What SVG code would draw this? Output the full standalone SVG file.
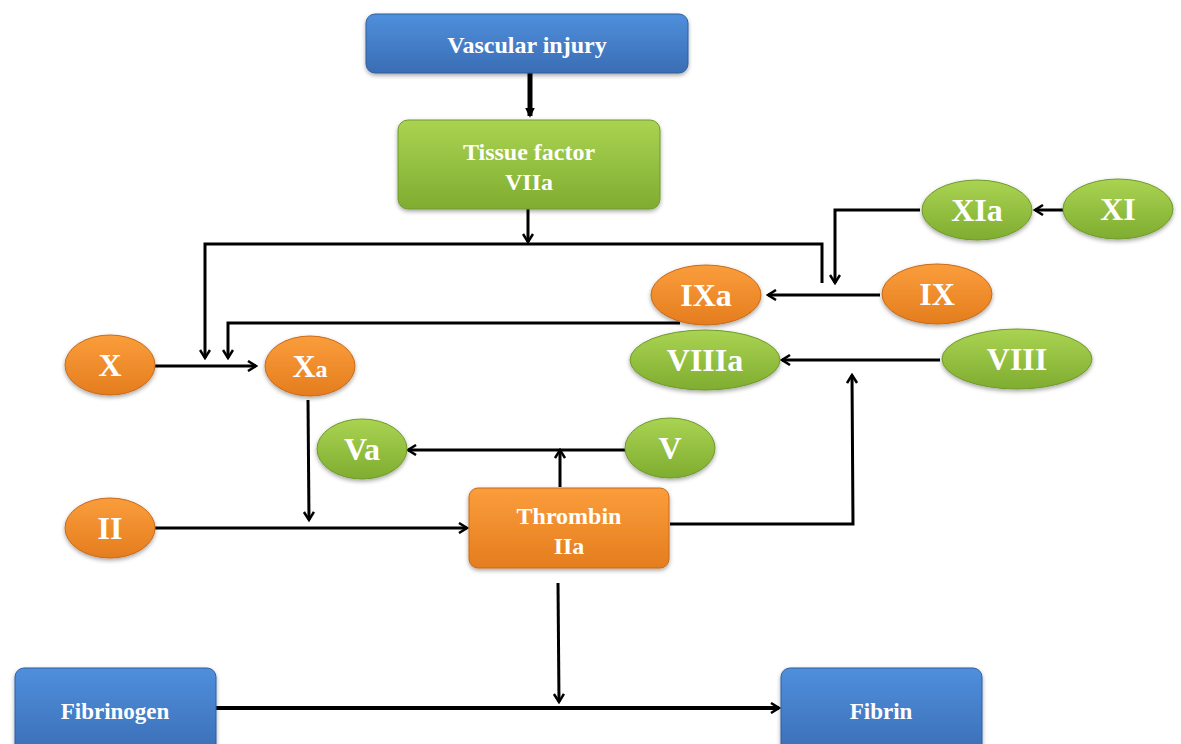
<svg xmlns="http://www.w3.org/2000/svg" width="1181" height="744" viewBox="0 0 1181 744">
<style>
.t{font-family:"Liberation Serif","Times New Roman",serif;font-weight:bold;fill:#fff;text-anchor:middle}
.e{font-size:32px}
.r{font-size:24px}
.ln{fill:none;stroke:#000;stroke-width:3;marker-end:url(#ah)}
.blue{fill:url(#gb);stroke:#2f5f9f;stroke-width:1;filter:url(#sh)}
.green{fill:url(#gg);stroke:#6f9a2a;stroke-width:1;filter:url(#sh)}
.orange{fill:url(#go);stroke:#c86a18;stroke-width:1;filter:url(#sh)}
</style>
<defs>
<linearGradient id="gb" x1="0" y1="0" x2="0" y2="1"><stop offset="0" stop-color="#4f8fdc"/><stop offset="1" stop-color="#3a6db4"/></linearGradient>
<linearGradient id="gg" x1="0" y1="0" x2="0" y2="1"><stop offset="0" stop-color="#aad352"/><stop offset="1" stop-color="#7fad30"/></linearGradient>
<linearGradient id="go" x1="0" y1="0" x2="0" y2="1"><stop offset="0" stop-color="#fb9d3c"/><stop offset="1" stop-color="#e47d1e"/></linearGradient>
<filter id="sh" x="-10%" y="-10%" width="120%" height="130%"><feDropShadow dx="0" dy="2" stdDeviation="2" flood-color="#000" flood-opacity="0.35"/></filter>
<marker id="ah" viewBox="0 0 12 12" refX="10" refY="6" markerWidth="12" markerHeight="12" markerUnits="userSpaceOnUse" orient="auto"><path d="M2,1 L10,6 L2,11" fill="none" stroke="#000" stroke-width="2.5"/></marker>
<marker id="ahb" viewBox="0 0 12 12" refX="10" refY="6" markerWidth="10" markerHeight="14" markerUnits="userSpaceOnUse" orient="auto"><path d="M0,0 L12,6 L0,12 z" fill="#000"/></marker>
</defs>
<g id="connectors">
<line x1="530" y1="73" x2="530" y2="116" stroke="#000" stroke-width="5" marker-end="url(#ahb)"/>
<line class="ln" x1="528" y1="209" x2="528" y2="242"/>
<polyline class="ln" points="822,283 822,244 205,244 205,358"/>
<polyline class="ln" points="920,210 835,210 835,283"/>
<line class="ln" x1="1063" y1="210" x2="1035" y2="210"/>
<line class="ln" x1="880" y1="295" x2="768" y2="295"/>
<polyline class="ln" points="680,323 228,323 228,358"/>
<line class="ln" x1="940" y1="360" x2="782" y2="360"/>
<line class="ln" x1="155" y1="366" x2="256" y2="366"/>
<line class="ln" x1="308" y1="400" x2="309" y2="520"/>
<line class="ln" x1="625" y1="450" x2="408" y2="450"/>
<line class="ln" x1="560" y1="487" x2="560" y2="450"/>
<line class="ln" x1="155" y1="528" x2="467" y2="528"/>
<polyline class="ln" points="670,524 853,524 852,375"/>
<line class="ln" x1="558" y1="583" x2="559" y2="702"/>
<line x1="216" y1="708" x2="779" y2="708" stroke="#000" stroke-width="4" marker-end="url(#ah)"/>
</g>
<g id="vascular-injury"><rect class="blue" x="366" y="14" width="322" height="59" rx="9"/><text class="t r" x="527" y="53">Vascular injury</text></g>
<g id="tissue-factor"><rect class="green" x="398" y="120" width="262" height="89" rx="10"/><text class="t r" x="529" y="160">Tissue factor</text><text class="t r" x="529" y="190">VIIa</text></g>
<g id="XIa"><ellipse class="green" cx="977" cy="210" rx="55" ry="30"/><text class="t e" x="977" y="221">XIa</text></g>
<g id="XI"><ellipse class="green" cx="1118" cy="209" rx="55" ry="30"/><text class="t e" x="1118" y="220">XI</text></g>
<g id="IXa"><ellipse class="orange" cx="706" cy="295" rx="55" ry="30"/><text class="t e" x="706" y="306">IXa</text></g>
<g id="IX"><ellipse class="orange" cx="937" cy="294" rx="55" ry="30"/><text class="t e" x="937" y="305">IX</text></g>
<g id="VIIIa"><ellipse class="green" cx="705" cy="360" rx="75" ry="30"/><text class="t e" x="705" y="371">VIIIa</text></g>
<g id="VIII"><ellipse class="green" cx="1017" cy="359" rx="75" ry="30"/><text class="t e" x="1017" y="370">VIII</text></g>
<g id="X"><ellipse class="orange" cx="110" cy="365" rx="45" ry="30"/><text class="t e" x="110" y="376">X</text></g>
<g id="Xa"><ellipse class="orange" cx="310" cy="366" rx="45" ry="30"/><text class="t e" x="310" y="377">X<tspan font-size="24">a</tspan></text></g>
<g id="Va"><ellipse class="green" cx="362" cy="449" rx="45" ry="30"/><text class="t e" x="362" y="460">Va</text></g>
<g id="V"><ellipse class="green" cx="670" cy="448" rx="45" ry="30"/><text class="t e" x="670" y="459">V</text></g>
<g id="II"><ellipse class="orange" cx="110" cy="528" rx="45" ry="30"/><text class="t e" x="110" y="539">II</text></g>
<g id="thrombin"><rect class="orange" x="469" y="488" width="200" height="80" rx="9"/><text class="t r" x="569" y="524">Thrombin</text><text class="t r" x="569" y="554">IIa</text></g>
<g id="fibrinogen"><rect class="blue" x="15" y="668" width="201" height="90" rx="9"/><text class="t" x="115" y="719" font-size="23">Fibrinogen</text></g>
<g id="fibrin"><rect class="blue" x="781" y="668" width="201" height="90" rx="9"/><text class="t" x="881" y="719" font-size="23">Fibrin</text></g>
</svg>
